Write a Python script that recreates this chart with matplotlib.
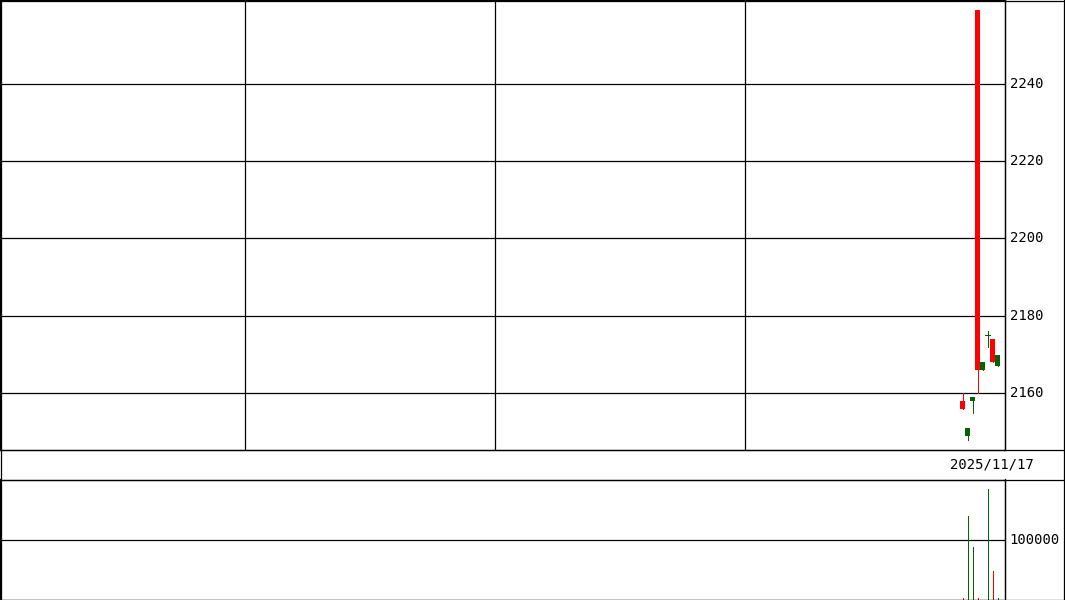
import matplotlib
matplotlib.use("Agg")
import matplotlib.pyplot as plt
from matplotlib.lines import Line2D

# ---- data ----
n_slots = 201
day_index = [192, 193, 194, 195, 196, 197, 198, 199]
opens  = [2156, 2151, 2159, 2166, 2168, 2175, 2168, 2170]
closes = [2158, 2149, 2158, 2259, 2166, 2175, 2174, 2167]
highs  = [2160, 2151, 2159, 2259, 2168, 2176, 2174, 2170]
lows   = [2156, 2148, 2155, 2160, 2166, 2172, 2168, 2167]
volumes = [80500, 108000, 97600, 80500, 79000, 117100, 89600, 80500]
price_ticks = [2160, 2180, 2200, 2220, 2240]
volume_ticks = [100000]
date_label = "2025/11/17"
vgrid = [49, 99, 149]

RED = "#ff0000"
GREEN = "#006400"
W, H = 1065, 600
LW = 0.9
MLW = 0.72
FS = 10

fig = plt.figure(figsize=(W / 100, H / 100), dpi=100)
fig.patch.set_facecolor("white")

def fx(px):
    return px / W

def fy(py):
    return 1 - py / H

# main price axes
ax = fig.add_axes([0, fy(449.5), fx(1004.5), 449.5 / H])
ax.set_xlim(0, 200.9)
ax.set_ylim(2145.5, 2261.6)
ax.set_xticks([])
ax.set_yticks([])
for s in ax.spines.values():
    s.set_linewidth(LW)
    s.set_color("black")
for g in vgrid:
    ax.axvline(g, color="black", lw=LW, zorder=1)
for t in price_ticks:
    ax.axhline(t, color="black", lw=LW, zorder=1)
    ax.text(1.005, t, str(t), transform=ax.get_yaxis_transform(),
            ha="left", va="center", fontsize=FS, family="DejaVu Sans Mono")

xs = [i + 0.5 for i in day_index]
for x, o, c, h, l in zip(xs, opens, closes, highs, lows):
    col = RED if c > o else GREEN
    ax.vlines(x, l, h, color=col, lw=MLW, zorder=2, antialiased=False)
    if c == o:
        ax.hlines(o, x - 0.47, x + 0.47, color=col, lw=MLW, zorder=3,
                  antialiased=False)
    else:
        ax.bar(x, abs(c - o), bottom=min(o, c), width=0.95, color=col,
               linewidth=0, zorder=3)

# volume axes
axv = fig.add_axes([0, fy(599.5), fx(1004.5), 120 / H])
axv.set_xlim(0, 200.9)
vmin, vmax = 80000, 120300
axv.set_ylim(vmin, vmax)
axv.set_xticks([])
axv.set_yticks([])
for s in axv.spines.values():
    s.set_linewidth(LW)
    s.set_color("black")
for t in volume_ticks:
    axv.axhline(t, color="black", lw=LW, zorder=1)
    axv.text(1.005, t, str(t), transform=axv.get_yaxis_transform(),
             ha="left", va="center", fontsize=FS, family="DejaVu Sans Mono")
for x, o, c, v in zip(xs, opens, closes, volumes):
    col = RED if c > o else GREEN
    axv.vlines(x, vmin, v, color=col, lw=MLW, zorder=2, antialiased=False)

# frame and date strip
def hline(py, x0=0, x1=1064.5):
    fig.add_artist(Line2D([fx(x0), fx(x1)], [fy(py), fy(py)], color="black", lw=LW))

def vline(px, y0=0, y1=599.5):
    fig.add_artist(Line2D([fx(px), fx(px)], [fy(y0), fy(y1)], color="black", lw=LW))

hline(0.5)
hline(449.5)
hline(479.5)
hline(599.5)
vline(0.5)
vline(1063.5)
vline(1004.5, 0, 449.5)
vline(1004.5, 479.5, 599.5)

fig.text(fx(1034), fy(465), date_label, ha="right", va="center",
         fontsize=FS, family="DejaVu Sans Mono")

fig.savefig("out.png", dpi=100, facecolor="white")
